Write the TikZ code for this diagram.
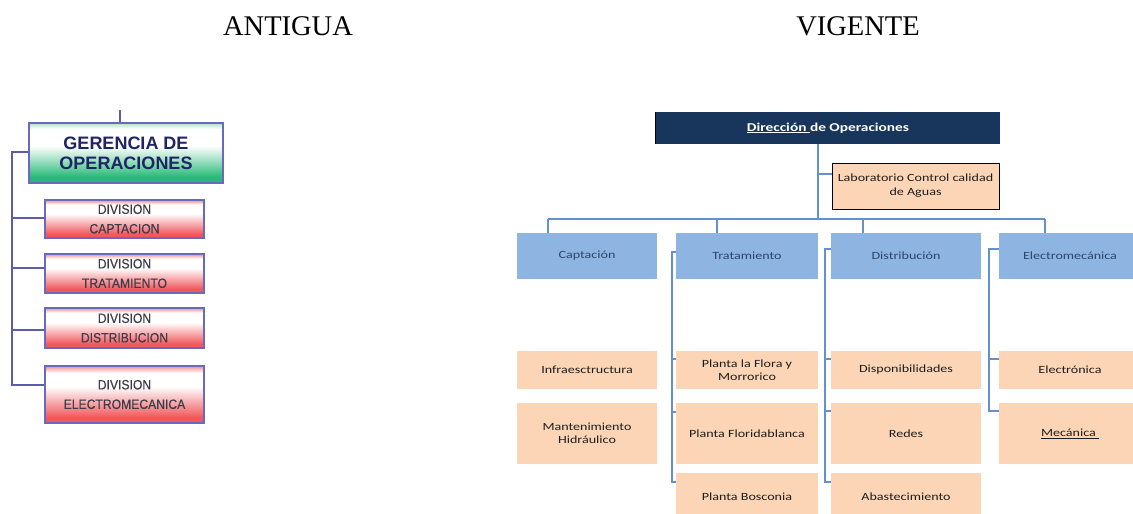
\documentclass[tikz,border=0pt]{standalone}
\usepackage{fontspec}
\setmainfont{Liberation Serif}
\newfontfamily\orgsans{Liberation Sans}
\newfontfamily\orgnarrow[FakeStretch=0.9,FakeBold=0.3]{Liberation Sans}
\newfontfamily\calibfont[FakeStretch=1.28]{Carlito}

\definecolor{navy}{RGB}{24,54,92}
\definecolor{bluebox}{RGB}{142,180,226}
\definecolor{bluetext}{RGB}{45,70,105}
\definecolor{peach}{RGB}{251,213,181}
\definecolor{peachtext}{RGB}{30,30,30}
\definecolor{linkblue}{RGB}{100,145,205}
\definecolor{oldline}{RGB}{92,92,175}
\definecolor{oldborder}{RGB}{105,105,190}
\definecolor{oldnavy}{RGB}{30,36,100}
\definecolor{oldtext}{RGB}{60,60,75}
\definecolor{greenlo}{RGB}{40,185,120}
\definecolor{greenhi}{RGB}{170,228,195}
\definecolor{redlo}{RGB}{240,88,92}
\definecolor{redhi}{RGB}{242,140,140}

% vertical fills: the path spans 25bp (bottom) to 75bp (top)
\pgfdeclareverticalshading{greenband}{100bp}{color(0bp)=(greenlo); color(25bp)=(greenlo);
  color(30bp)=(greenlo); color(44bp)=(greenlo!45!white); color(56bp)=(white); color(70bp)=(white);
  color(75bp)=(greenhi); color(100bp)=(greenhi)}
\pgfdeclareverticalshading{redband}{100bp}{color(0bp)=(redlo); color(25bp)=(redlo);
  color(30bp)=(redlo); color(45bp)=(redlo!45!white); color(57bp)=(white); color(69bp)=(white);
  color(75bp)=(redhi); color(100bp)=(redhi)}

\tikzset{
  title/.style={font=\fontsize{28.5}{30}\selectfont, anchor=base, inner sep=0},
  gerencia/.style={draw=oldborder, line width=2pt, shading=greenband,
    minimum width=194, minimum height=60, inner sep=0, align=center,
    text=oldnavy, font=\orgsans\bfseries\fontsize{18}{20}\selectfont},
  division/.style={draw=oldborder, line width=1.5pt, shading=redband,
    minimum width=159, inner sep=0, align=center,
    text=oldtext, font=\orgnarrow\fontsize{13.5}{19.5}\selectfont},
  oldlink/.style={draw=oldline, line width=2pt},
  headbox/.style={fill=navy, text=white, minimum width=344, minimum height=32, inner sep=0,
    font=\calibfont\bfseries\fontsize{12}{14}\selectfont},
  labbox/.style={fill=peach, draw=black, line width=0.8pt, minimum width=167, minimum height=46,
    inner sep=0, align=center, text=peachtext, font=\calibfont\fontsize{11}{14}\selectfont},
  unitbox/.style={fill=bluebox, text=bluetext, minimum height=46, inner sep=0,
    font=\calibfont\fontsize{11}{14}\selectfont},
  subbox/.style={fill=peach, text=peachtext, inner sep=0, align=center,
    font=\calibfont\fontsize{11}{13.5}\selectfont},
  link/.style={draw=linkblue, line width=1.3pt}
}

\begin{document}
\begin{tikzpicture}[x=1pt, y=-1pt]
\clip (0,0) rectangle (1133,514);
\fill[white] (0,0) rectangle (1133,514);

% headings
\node[title] (antigua) at (288,35) {ANTIGUA};
\node[title] (vigente) at (858,35) {VIGENTE};

% ---------------- former structure ----------------
\node[gerencia] (gen) at (126,153) {GERENCIA DE\\OPERACIONES};
\node[division, minimum height=38] (d1) at (124.5,219) {DIVISION\\CAPTACION};
\node[division, minimum height=39] (d2) at (124.5,273.5) {DIVISION\\TRATAMIENTO};
\node[division, minimum height=40] (d3) at (124.5,328) {DIVISION\\DISTRIBUCION};
\node[division, minimum height=57] (d4) at (124.5,394.5) {DIVISION\\ELECTROMECANICA};

\coordinate (genTop) at (120,110);
\coordinate (lTop) at (12,152);
\coordinate (l1) at (12,218);
\coordinate (l2) at (12,268);
\coordinate (l3) at (12,330);
\coordinate (lBot) at (12,385);
\draw[oldlink] (genTop) -- (genTop |- gen.north);
\draw[oldlink] (lTop -| gen.west) -- (lTop) -- (lBot) -- (lBot -| d4.west);
\draw[oldlink] (l1) -- (l1 -| d1.west);
\draw[oldlink] (l2) -- (l2 -| d2.west);
\draw[oldlink] (l3) -- (l3 -| d3.west);

% ---------------- current structure ----------------
\node[headbox] (dir) at (828,128) {\underline{Dirección\ }de Operaciones};
\draw[black, line width=1pt] (dir.north west) -- (dir.south west);
\node[labbox] (lab) at (915.5,186) {Laboratorio Control calidad\\de Aguas};

\node[unitbox, minimum width=140] (cap) at (587,256) {Captación};
\node[unitbox, minimum width=142] (trat) at (747,256) {Tratamiento};
\node[unitbox, minimum width=150] (dist) at (906,256) {Distribución};
\node[unitbox, minimum width=142] (elec) at (1070,256) {Electromecánica};

\node[subbox, minimum width=140, minimum height=38] (infra) at (587,370) {Infraesctructura};
\node[subbox, minimum width=140, minimum height=61] (mant) at (587,433.5) {Mantenimiento\\Hidráulico};
\node[subbox, minimum width=142, minimum height=38] (flora) at (747,370) {Planta la Flora y\\Morrorico};
\node[subbox, minimum width=142, minimum height=61] (florida) at (747,433.5) {Planta Floridablanca};
\node[subbox, minimum width=142, minimum height=48] (bos) at (747,497) {Planta Bosconia};
\node[subbox, minimum width=150, minimum height=38] (disp) at (906,370) {Disponibilidades};
\node[subbox, minimum width=150, minimum height=61] (redes) at (906,433.5) {Redes};
\node[subbox, minimum width=150, minimum height=48] (abas) at (906,497) {Abastecimiento};
\node[subbox, minimum width=142, minimum height=38] (electron) at (1070,370) {Electrónica};
\node[subbox, minimum width=142, minimum height=61] (mec) at (1070,433.5) {\underline{Mecánica\ }};

% trunk and bus
\coordinate (trunk) at (818,219);
\coordinate (labTap) at (818,174);
\coordinate (dCap) at (548,219);
\coordinate (dTrat) at (717,219);
\coordinate (dDist) at (863,219);
\coordinate (dElec) at (1045,219);
\draw[link] (dir.south -| trunk) -- (trunk);
\draw[link] (labTap) -- (labTap -| lab.west);
\draw[link] (dCap) -- (dElec);
\draw[link] (dCap) -- (dCap |- cap.north);
\draw[link] (dTrat) -- (dTrat |- trat.north);
\draw[link] (dDist) -- (dDist |- dist.north);
\draw[link] (dElec) -- (dElec |- elec.north);

% Tratamiento branch
\coordinate (tTop) at (672,252);
\coordinate (tA) at (672,359);
\coordinate (tB) at (672,412);
\coordinate (tBot) at (672,482);
\draw[link] (tTop -| trat.west) -- (tTop) -- (tBot) -- (tBot -| bos.west);
\draw[link] (tA) -- (tA -| flora.west);
\draw[link] (tB) -- (tB -| florida.west);

% Distribucion branch
\coordinate (sTop) at (825,249);
\coordinate (sA) at (825,359);
\coordinate (sB) at (825,411);
\coordinate (sBot) at (825,482);
\draw[link] (sTop -| dist.west) -- (sTop) -- (sBot) -- (sBot -| abas.west);
\draw[link] (sA) -- (sA -| disp.west);
\draw[link] (sB) -- (sB -| redes.west);

% Electromecanica branch
\coordinate (eTop) at (989,249);
\coordinate (eA) at (989,359);
\coordinate (eBot) at (989,411);
\draw[link] (eTop -| elec.west) -- (eTop) -- (eBot) -- (eBot -| mec.west);
\draw[link] (eA) -- (eA -| electron.west);
\end{tikzpicture}
\end{document}
